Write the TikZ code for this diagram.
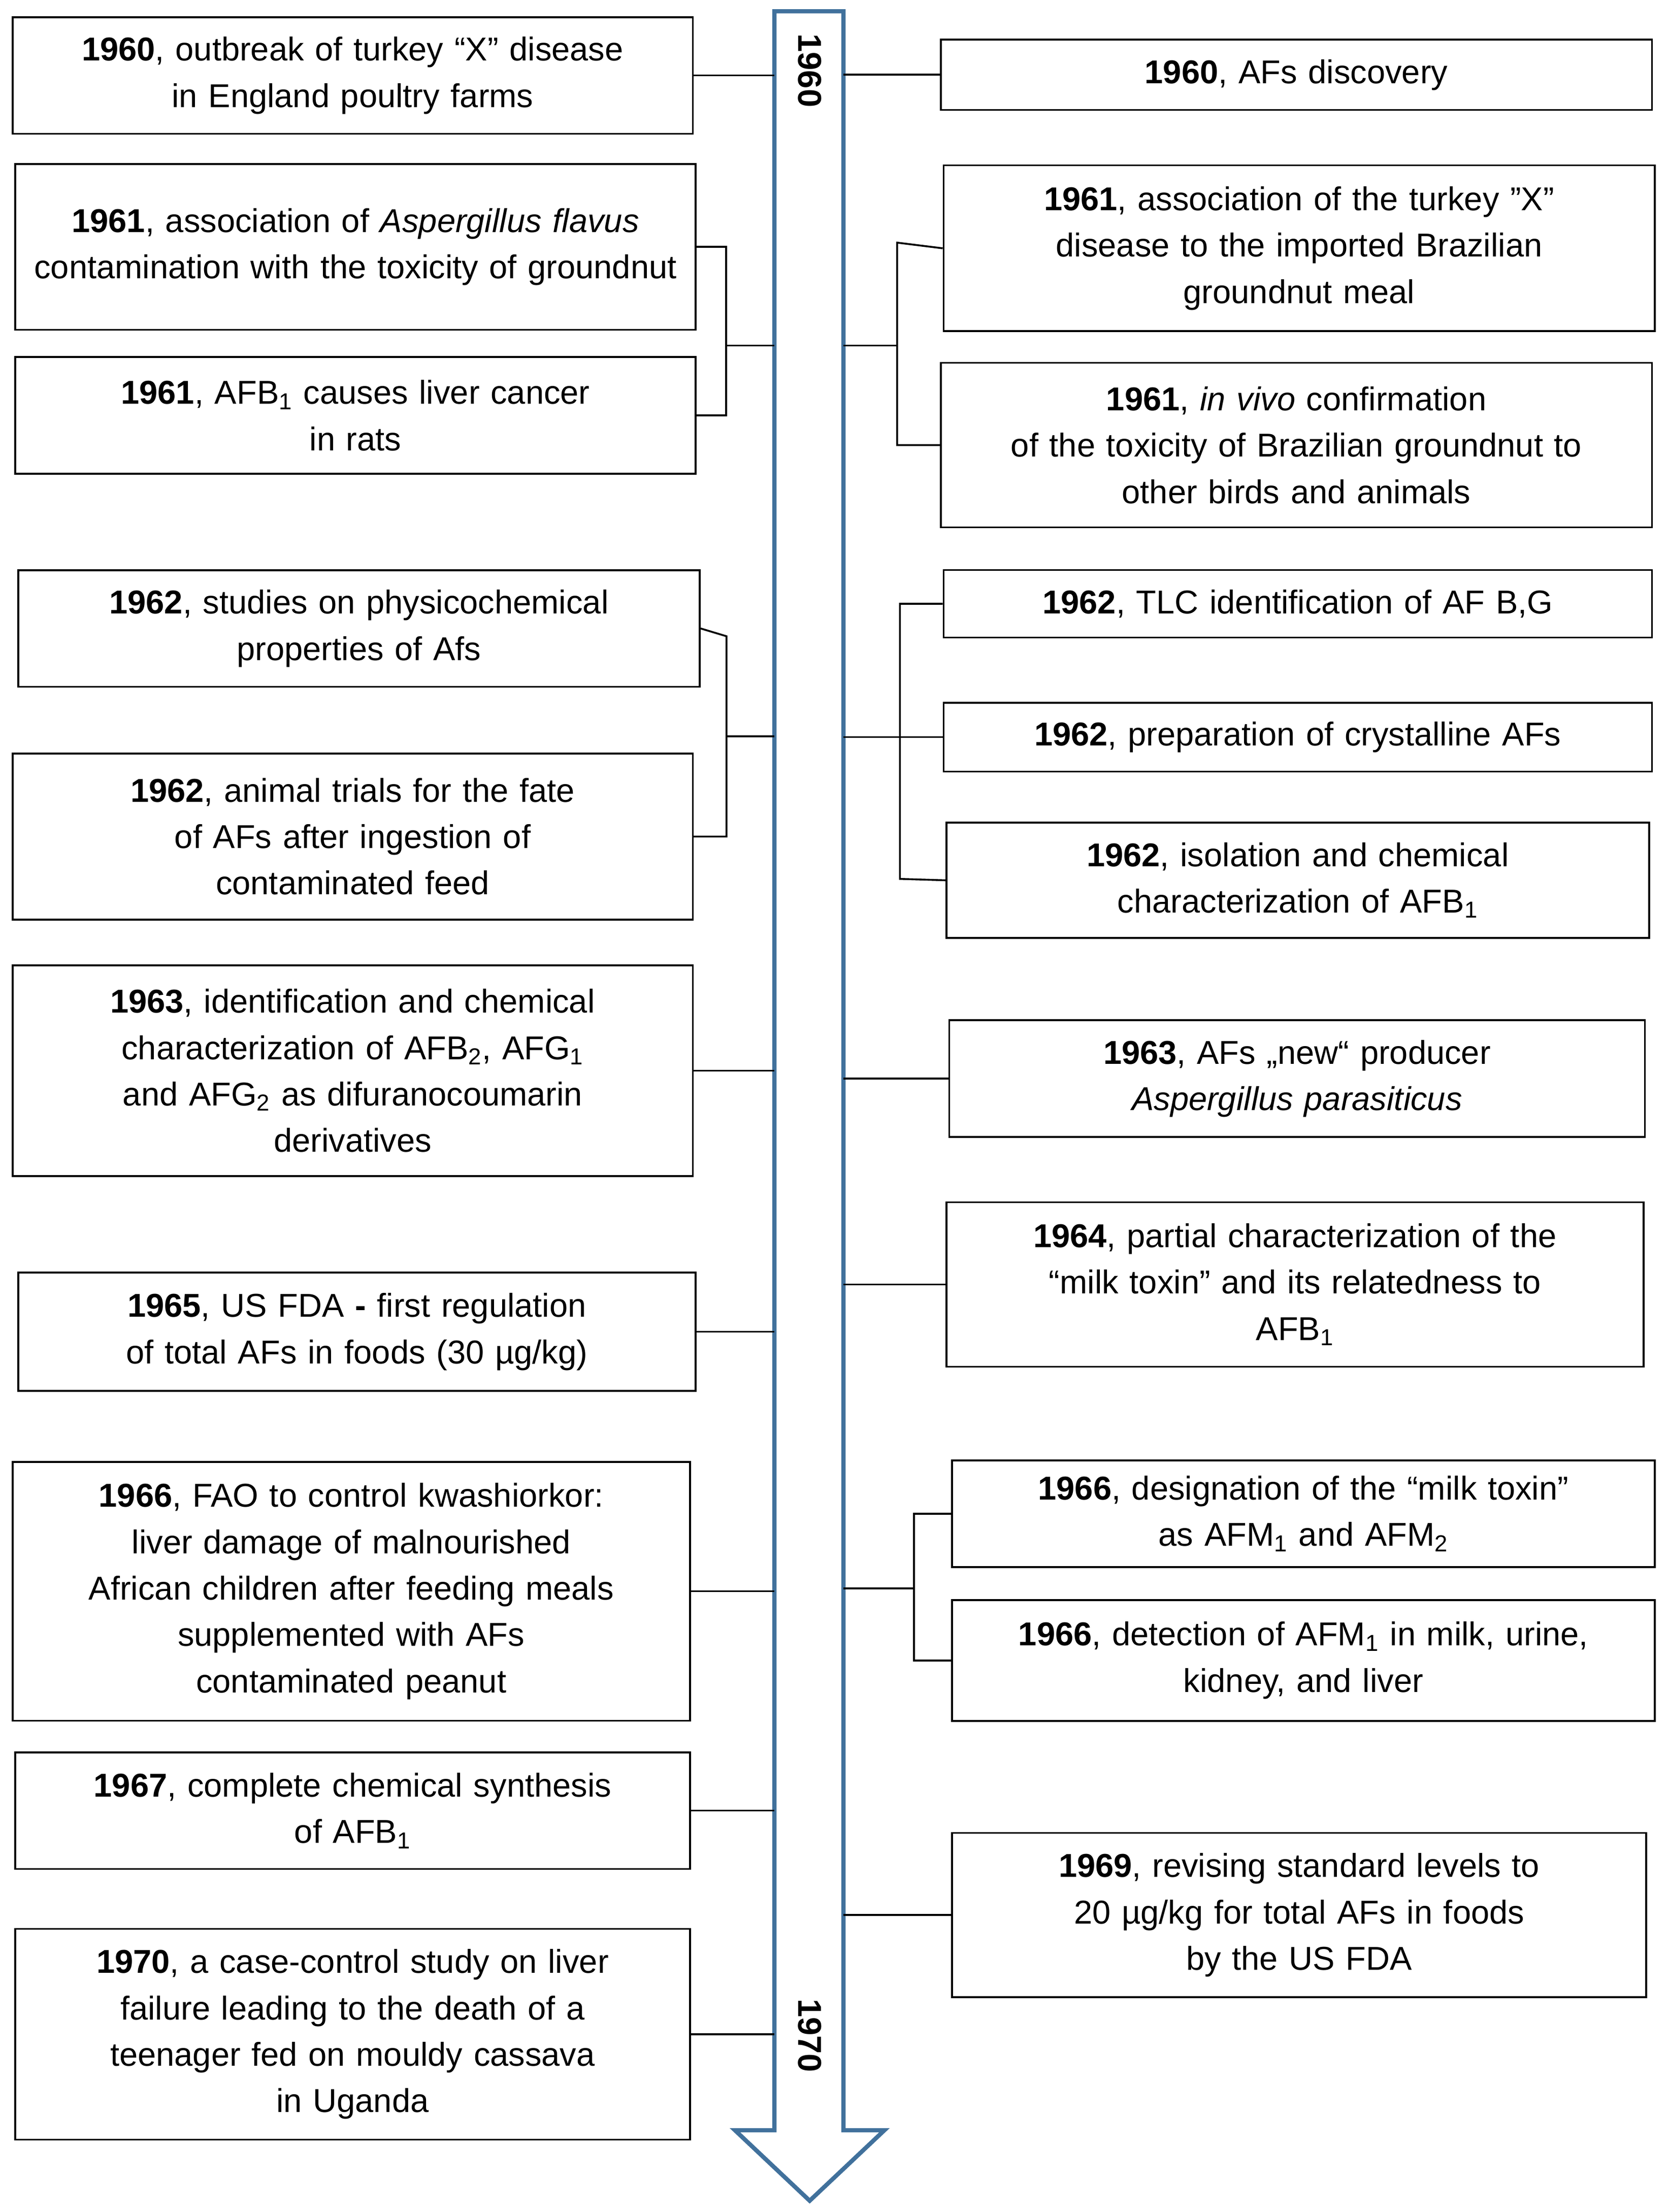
\documentclass[tikz,border=0pt]{standalone}
\usepackage{fontspec}
\setmainfont{Liberation Sans}
\definecolor{arr}{HTML}{41719C}
\begin{document}
\begin{tikzpicture}[x=1bp,y=-1bp,
  box/.style={draw,line width=1.3bp,align=center,inner sep=2bp,font=\fontsize{23.5}{33}\selectfont},
  ln/.style={line width=1.3bp}]
\useasboundingbox (0,0) rectangle (1183,1568);
% arrow
\draw[arr,line width=3bp,fill=white] (549,8) -- (598,8) -- (598,1510) -- (627,1510) -- (574,1560) -- (521,1510) -- (549,1510) -- cycle;
\node[rotate=-90,font=\fontsize{23.5}{28}\selectfont\bfseries] (y60) at (574,50) {1960};
\node[rotate=-90,font=\fontsize{23.5}{28}\selectfont\bfseries] (y70) at (574,1443) {1970};
\coordinate (AL) at (549,0);
\coordinate (AR) at (598,0);
\newcommand{\bx}[6]{\node[box,minimum width={#4-#2},minimum height={#5-#3},text width={#4-#2-14}] (#1) at ({(#2+#4)/2},{(#3+#5)/2}) {#6};}
% left
\bx{L0}{8}{12}{492}{95}{\textbf{1960}, outbreak of turkey “X” disease\\in England poultry farms}
\bx{L1a}{10}{116}{494}{234}{\textbf{1961}, association of \textit{Aspergillus flavus} contamination with the toxicity of groundnut}
\bx{L1b}{10}{253}{494}{336}{\textbf{1961}, AFB\textsubscript{1} causes liver cancer\\in rats}
\bx{L2a}{12}{404}{497}{487}{\textbf{1962}, studies on physicochemical\\properties of Afs}
\bx{L2b}{8}{534}{492}{652}{\textbf{1962}, animal trials for the fate\\of AFs after ingestion of\\contaminated feed}
\bx{L3}{8}{684}{492}{834}{\textbf{1963}, identification and chemical\\characterization of AFB\textsubscript{2}, AFG\textsubscript{1}\\and AFG\textsubscript{2} as difuranocoumarin\\derivatives}
\bx{L5}{12}{902}{494}{986}{\textbf{1965}, US FDA \textbf{-} first regulation\\of total AFs in foods (30 µg/kg)}
\bx{L6}{8}{1036}{490}{1220}{\textbf{1966}, FAO to control kwashiorkor:\\liver damage of malnourished\\African children after feeding meals\\supplemented with AFs\\contaminated peanut}
\bx{L7}{10}{1242}{490}{1325}{\textbf{1967}, complete chemical synthesis\\of AFB\textsubscript{1}}
\bx{L70}{10}{1367}{490}{1517}{\textbf{1970}, a case-control study on liver\\failure leading to the death of a\\teenager fed on mouldy cassava\\in Uganda}
% right
\bx{R0}{666}{28}{1172}{78}{\textbf{1960}, AFs discovery}
\bx{R1a}{668}{117}{1174}{235}{\textbf{1961}, association of the turkey ”X”\\disease to the imported Brazilian\\groundnut meal}
\bx{R1b}{666}{257}{1172}{374}{\textbf{1961}, \textit{in vivo} confirmation\\of the toxicity of Brazilian groundnut to\\other birds and animals}
\bx{R2a}{668}{404}{1172}{452}{\textbf{1962}, TLC identification of AF B,G}
\bx{R2b}{668}{498}{1172}{547}{\textbf{1962}, preparation of crystalline AFs}
\bx{R2c}{670}{583}{1170}{665}{\textbf{1962}, isolation and chemical\\characterization of AFB\textsubscript{1}}
\bx{R3}{672}{723}{1167}{806}{\textbf{1963}, AFs „new“ producer\\\textit{Aspergillus parasiticus}}
\bx{R4}{670}{852}{1166}{969}{\textbf{1964}, partial characterization of the\\“milk toxin” and its relatedness to\\AFB\textsubscript{1}}
\bx{R6a}{674}{1035}{1174}{1111}{\textbf{1966}, designation of the “milk toxin”\\as AFM\textsubscript{1} and AFM\textsubscript{2}}
\bx{R6b}{674}{1134}{1174}{1220}{\textbf{1966}, detection of AFM\textsubscript{1} in milk, urine,\\kidney, and liver}
\bx{R9}{674}{1299}{1168}{1416}{\textbf{1969}, revising standard levels to\\20 µg/kg for total AFs in foods\\by the US FDA}
% left connectors
\draw[ln] (L0.east) -- (L0.east -| AL);
\draw[ln] (L1a.east) -- ++(21,0) |- (L1b.east);
\draw[ln] (515,245) -- (549,245);
\draw[ln] (L2a.east) -- (515,451) |- (L2b.east);
\draw[ln] (515,522) -- (549,522);
\draw[ln] (L3.east) -- (L3.east -| AL);
\draw[ln] (L5.east) -- (L5.east -| AL);
\draw[ln] (L6.east) -- (L6.east -| AL);
\draw[ln] (L7.east) -- (L7.east -| AL);
\draw[ln] (L70.east) -- (L70.east -| AL);
% right connectors
\draw[ln] (R0.west) -- (R0.west -| AR);
\draw[ln] (R1a.west) -- (636,172) |- (R1b.west);
\draw[ln] (598,245) -- (636,245);
\draw[ln] (R2a.west) -- (638,428) -- (638,623) -- (R2c.west);
\draw[ln] (R2b.west) -- (R2b.west -| AR);
\draw[ln] (R3.west) -- (R3.west -| AR);
\draw[ln] (R4.west) -- (R4.west -| AR);
\draw[ln] (R6a.west) -- (648,1073) |- (R6b.west);
\draw[ln] (598,1126) -- (648,1126);
\draw[ln] (R9.west) -- (R9.west -| AR);
\end{tikzpicture}
\end{document}
